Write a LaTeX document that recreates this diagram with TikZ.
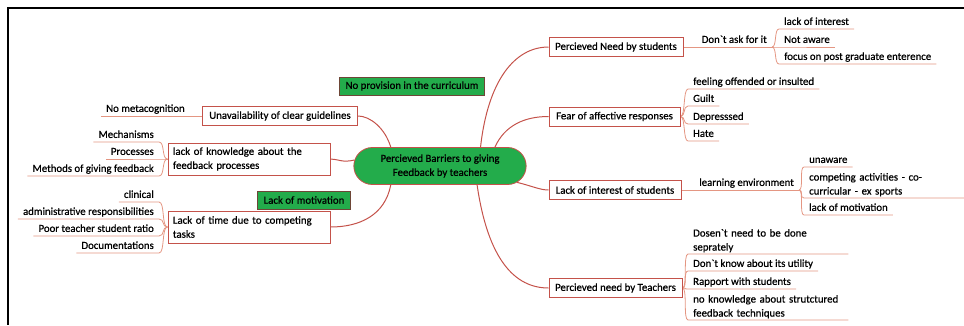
\documentclass[tikz,border=0pt]{standalone}
\usepackage{fontspec}
\setmainfont{Carlito}[FakeBold=0.7]
\usetikzlibrary{shapes.misc,backgrounds}
\definecolor{mapgreen}{RGB}{35,172,75}
\definecolor{mapred}{RGB}{196,82,74}
\definecolor{twigred}{RGB}{228,150,130}
\definecolor{notedge}{RGB}{110,70,55}
\tikzset{
  topic/.style={draw=mapred,line width=1pt,fill=white,inner xsep=5pt,inner ysep=0pt,minimum height=19pt,align=left},
  root/.style={rounded rectangle,draw=mapred,line width=0.8pt,fill=mapgreen,minimum width=179pt,minimum height=37pt,align=center},
  note/.style={draw=notedge,line width=0.6pt,fill=mapgreen,minimum height=18pt,inner xsep=6pt},
  longleaf/.style={inner xsep=5pt,inner ysep=1.5pt,align=left,text width=150pt},
  leaf/.style={inner xsep=5pt,inner ysep=1.5pt,text depth=0.5ex},
  branch/.style={draw=mapred,line width=1pt},
  twig/.style={draw=twigred,line width=0.8pt}
}
\begin{document}
\begin{tikzpicture}[x=1pt,y=-1pt,font=\fontsize{10.8}{14}\selectfont]
\useasboundingbox (0,0) rectangle (964,325);
\draw[line width=1.4pt] (964,8) -- (8,8) -- (8,325);

\node[root] (root) at (440,166) {Percieved Barriers to giving\\Feedback by teachers};
\node[note,minimum width=145pt] (curric) at (412,86) {No provision in the curriculum};
\node[note,minimum width=92pt] (motiv) at (304,200) {Lack of motivation};

\node[topic,minimum width=155pt] (guide) at (280,116) {Unavailability of clear guidelines};
\node[topic,text width=152pt,minimum height=32pt] (know) at (249,159) {lack of knowledge about the\\feedback processes};
\node[topic,text width=152pt,minimum height=32pt] (time) at (249,227) {Lack of time due to competing\\tasks};

\node[leaf,anchor=south west] (nometa) at (101,116) {No metacognition};
\node[leaf,anchor=south east] (mech) at (159,142) {Mechanisms};
\node[leaf,anchor=south east] (proc) at (159,159) {Processes};
\node[leaf,anchor=south east] (meth) at (159,176) {Methods of giving feedback};
\node[leaf,anchor=south east] (clin) at (159,202) {clinical};
\node[leaf,anchor=south east] (admin) at (159,219) {administrative responsibilities};
\node[leaf,anchor=south east] (ratio) at (159,236) {Poor teacher student ratio};
\node[leaf,anchor=south east] (docs) at (159,253) {Documentations};

\node[topic,minimum width=134pt] (need) at (616,47) {Percieved Need by students};
\node[leaf,anchor=south east] (dask) at (772,47) {Don\textasciigrave t ask for it};
\node[leaf,anchor=south west] (lint) at (779,29) {lack of interest};
\node[leaf,anchor=south west] (naware) at (779,47) {Not aware};
\node[leaf,anchor=south west] (focus) at (779,64) {focus on post graduate enterence};

\node[topic,minimum width=131pt] (fear) at (614.5,116.5) {Fear of affective responses};
\node[leaf,anchor=south west] (offend) at (688,89) {feeling offended or insulted};
\node[leaf,anchor=south west] (guilt) at (688,106) {Guilt};
\node[leaf,anchor=south west] (depr) at (688,124) {Depresssed};
\node[leaf,anchor=south west] (hate) at (688,141) {Hate};

\node[topic,minimum width=132pt] (lis) at (615,190) {Lack of interest of students};
\node[leaf,anchor=south east] (lenv) at (799,190) {learning environment};
\node[leaf,anchor=south west] (unaw) at (804,167) {unaware};
\node[longleaf,anchor=south west] (compet) at (804,198) {competing activities - co-\\curricular - ex sports};
\node[leaf,anchor=south west] (lmot) at (804,215) {lack of motivation};

\node[topic,minimum width=133pt] (nteach) at (615.5,288) {Percieved need by Teachers};
\node[longleaf,anchor=south west] (sep) at (688,254) {Dosen\textasciigrave t need to be done\\seprately};
\node[leaf,anchor=south west] (util) at (688,271) {Don\textasciigrave t know about its utility};
\node[leaf,anchor=south west] (rapp) at (688,289) {Rapport with students};
\node[longleaf,anchor=south west] (struct) at (688,320) {no knowledge about strutctured\\feedback techniques};

\begin{scope}[on background layer]
\draw[branch] (root.159) .. controls (385,128) and (370,116) .. (guide.east);
\draw[branch] (root.176) .. controls (342,163) and (338,159) .. (know.east);
\draw[branch] (root.201) .. controls (385,215) and (360,227) .. (time.east);
\draw[branch] (root.25) .. controls (488,80) and (515,47) .. (need.west);
\draw[branch] (root.19) .. controls (505,125) and (525,116.5) .. (fear.west);
\draw[branch] (root.-12) .. controls (532,186) and (540,190) .. (lis.west);
\draw[branch] (root.-27) .. controls (488,260) and (515,288) .. (nteach.west);

\draw[twig] (nometa.south west) -- (guide.west);
\foreach \n in {mech,proc,meth}
  \draw[twig] (know.west) .. controls +(-6,0) and +(6,0) .. (\n.south east) -- (\n.south west);
\foreach \n in {clin,admin,ratio,docs}
  \draw[twig] (time.west) .. controls +(-6,0) and +(6,0) .. (\n.south east) -- (\n.south west);
\draw[twig] (need.east) -- (dask.south east);
\foreach \n in {lint,naware,focus}
  \draw[twig] (dask.south east) .. controls +(5,0) and +(-5,0) .. (\n.south west) -- (\n.south east);
\foreach \n in {offend,guilt,depr,hate}
  \draw[twig] (fear.east) .. controls +(5,0) and +(-5,0) .. (\n.south west) -- (\n.south east);
\draw[twig] (lis.east) -- (lenv.south east);
\foreach \n in {unaw,compet,lmot}
  \draw[twig] (lenv.south east) .. controls +(5,0) and +(-5,0) .. (\n.south west) -- (\n.south east);
\foreach \n in {sep,util,rapp,struct}
  \draw[twig] (nteach.east) .. controls +(5,0) and +(-5,0) .. (\n.south west) -- (\n.south east);
\end{scope}
\end{tikzpicture}
\end{document}
